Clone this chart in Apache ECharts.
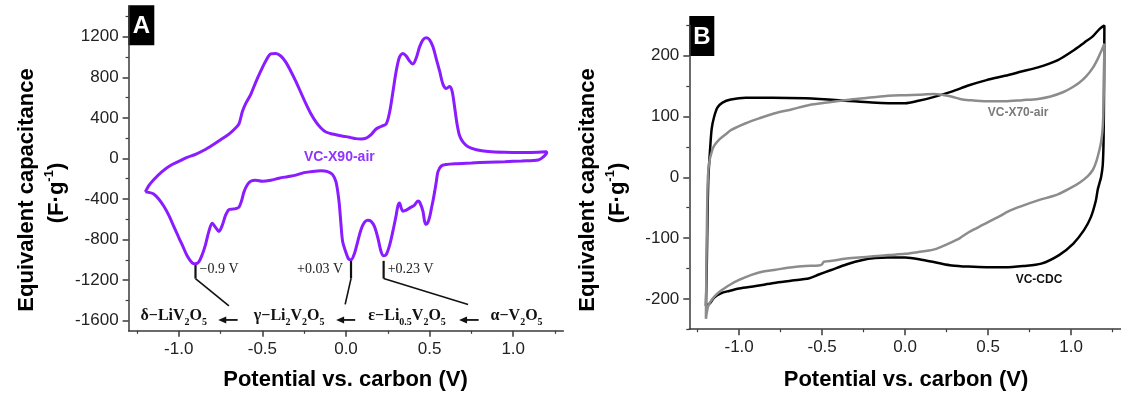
<!DOCTYPE html>
<html>
<head>
<meta charset="utf-8">
<script src="https://cdn.jsdelivr.net/npm/echarts@6/dist/echarts.min.js"></script>
<style>
  html, body { margin: 0; padding: 0; background: #fff; }
  #chart { width: 1121px; height: 399px; }
</style>
</head>
<body>
<div id="chart"></div>
<script>
  // panel A : VC-X90-air loop (upper branch left->right, then lower branch right->left)
  const x90Potential = [
    -1.2, -1.18, -1.15, -1.1, -1.05, -1.0, -0.95, -0.9, -0.85, -0.8, -0.75, -0.7, -0.66, -0.64, -0.62, -0.6, -0.57, -0.54, -0.51, -0.48,
    -0.45, -0.42, -0.39, -0.36, -0.33, -0.3, -0.27, -0.24, -0.21, -0.18, -0.15, -0.12, -0.08, -0.04, 0.0, 0.03, 0.06, 0.09, 0.12, 0.15,
    0.18, 0.21, 0.24, 0.26, 0.28, 0.3, 0.32, 0.34, 0.36, 0.38, 0.4, 0.42, 0.44, 0.46, 0.48, 0.5, 0.52, 0.54, 0.56, 0.58,
    0.6, 0.62, 0.635, 0.65, 0.665, 0.68, 0.7, 0.73, 0.78, 0.85, 0.95, 1.05, 1.15, 1.2,
    1.2, 1.18, 1.15, 1.05, 0.95, 0.85, 0.75, 0.65, 0.6, 0.57, 0.55, 0.54, 0.53, 0.52, 0.51, 0.5, 0.49, 0.48, 0.47, 0.46,
    0.44, 0.43, 0.41, 0.38, 0.36, 0.34, 0.33, 0.32, 0.31, 0.3, 0.28, 0.26, 0.24, 0.225, 0.21, 0.19, 0.17, 0.15, 0.13, 0.11,
    0.09, 0.07, 0.05, 0.03, 0.015, 0.0, -0.02, -0.03, -0.04, -0.05, -0.06, -0.08, -0.11, -0.15, -0.2, -0.25, -0.3, -0.35, -0.4, -0.45,
    -0.5, -0.54, -0.57, -0.59, -0.61, -0.625, -0.64, -0.66, -0.68, -0.7, -0.72, -0.74, -0.76, -0.78, -0.8, -0.82, -0.84, -0.86, -0.88, -0.9,
    -0.92, -0.95, -0.98, -1.0, -1.03, -1.06, -1.09, -1.12, -1.15, -1.18, -1.2
  ]
  const x90Capacitance = [
    -330, -270, -210, -130, -70, -30, 10, 40, 80, 130, 185, 240, 300, 340, 460, 540, 630, 750, 860, 960,
    1030, 1035, 1010, 950, 860, 760, 650, 540, 440, 360, 300, 260, 240, 225, 215, 205, 195, 192, 200, 235,
    290, 315, 340, 450, 650, 860, 1000, 1035, 1010, 960, 930, 990, 1100, 1170, 1190, 1170, 1100, 980, 860, 730,
    690, 710, 660, 500, 330, 220, 160, 115, 85, 68, 60, 58, 60, 65,
    55, 15, -15, -25, -32, -38, -45, -52, -60, -75, -130, -230, -330, -420, -500, -580, -630, -650, -620, -520,
    -430, -420, -460, -490, -510, -520, -490, -440, -470, -560, -720, -860, -950, -960, -920, -780, -670, -620, -610, -630,
    -700, -820, -940, -1000, -990, -930, -820, -650, -450, -320, -230, -160, -130, -122, -128, -140, -165, -180, -195, -215,
    -225, -215, -225, -260, -330, -420, -480, -495, -500, -505, -560, -660, -720, -680, -640, -720, -850, -950, -1020, -1040,
    -1030, -960, -850, -780, -670, -560, -470, -400, -350, -335, -330
  ]

  // panel B : VC-CDC loop
  const cdcPotential = [
    -1.2, -1.195, -1.19, -1.185, -1.175, -1.165, -1.15, -1.13, -1.1, -1.05, -0.96, -0.8, -0.6, -0.4, -0.2, -0.1, 0.0, 0.08, 0.17, 0.28,
    0.38, 0.49, 0.6, 0.7, 0.8, 0.92, 1.02, 1.08, 1.13, 1.17, 1.2,
    1.198, 1.195, 1.19, 1.18, 1.17, 1.16, 1.148, 1.118, 1.077, 1.013, 0.927, 0.82, 0.71, 0.6, 0.49, 0.38, 0.28, 0.2, 0.107,
    0.0, -0.107, -0.18, -0.256, -0.35, -0.45, -0.52, -0.577, -0.68, -0.79, -0.9, -1.0, -1.06, -1.11, -1.15, -1.175, -1.2
  ]
  const cdcCapacitance = [
    -212, -150, -60, 0, 45, 80, 100, 115, 123, 128, 131, 131, 130, 127, 123, 122, 122, 126, 132, 141,
    151, 160, 167, 174, 181, 193, 210, 222, 232, 244, 250,
    150, 60, 20, 0, -10, -20, -39, -66, -87, -109, -128, -142, -146, -148, -148, -147, -145, -141, -136,
    -132, -132, -133, -136, -143, -153, -160, -166, -170, -174, -179, -183, -187, -191, -198, -207, -212
  ]

  // panel B : VC-X70-air loop
  const x70Potential = [
    -1.2, -1.197, -1.193, -1.188, -1.18, -1.165, -1.15, -1.12, -1.08, -1.047, -0.96, -0.88, -0.79, -0.68, -0.577, -0.47, -0.363, -0.25, -0.15, -0.02,
    0.08, 0.17, 0.22, 0.278, 0.33, 0.385, 0.49, 0.6, 0.705, 0.8, 0.876, 0.95, 1.0, 1.05, 1.09, 1.13, 1.16, 1.18, 1.2,
    1.197, 1.193, 1.188, 1.18, 1.17, 1.15, 1.13, 1.1, 1.05, 1.0, 0.92, 0.8, 0.705, 0.63, 0.556, 0.47, 0.385, 0.33, 0.278, 0.22,
    0.17, 0.08, 0.0, -0.1, -0.19, -0.28, -0.363, -0.43, -0.49, -0.5, -0.52, -0.6, -0.68, -0.78, -0.855, -0.93, -1.0, -1.05, -1.09, -1.13,
    -1.16, -1.186, -1.2
  ]
  const x70Capacitance = [
    -233, -150, -60, 0, 25, 42, 52, 62, 71, 78, 89, 97, 105, 112, 119, 123, 127, 130, 133, 135,
    136, 137, 136, 133, 129, 127, 125, 125, 127, 129, 133, 140, 147, 156, 166, 180, 195, 207, 220,
    150, 100, 75, 58, 45, 25, 12, 2, -9, -17, -28, -38, -47, -55, -66, -78, -90, -100, -107, -114,
    -119, -123, -126, -128, -130, -132, -134, -137, -139, -143, -145, -146, -148, -152, -155, -161, -169, -176, -183, -191,
    -200, -212, -233
  ]

  // ticks and labels
  const potentialLabels = [-1, -0.5, 0, 0.5, 1]
  const potentialMinor = [-1.25, -0.75, -0.25, 0.25, 0.75, 1.25]
  const capALabels = [-1600, -1200, -800, -400, 0, 400, 800, 1200]
  const capAMinor = [-1400, -1000, -600, -200, 200, 600, 1000, 1400]
  const capBLabels = [-200, -100, 0, 100, 200]
  const capBMinor = [-250, -150, -50, 50, 150, 250]

  // peak annotations of panel A
  const peakMarks = [
    { v: -0.9, top: -1045, text: '\u22120.9 V', side: 'right', to: [-0.70, -1455] },
    { v: 0.03, top: -1005, text: '+0.03 V', side: 'left', to: [-0.005, -1440] },
    { v: 0.225, top: -1010, text: '+0.23 V', side: 'right', to: [0.73, -1440] }
  ]
  const phaseNames = [
    { x: -1.03, parts: [['m', '\u03b4\u2212LiV'], ['s', '2'], ['m', 'O'], ['s', '5']] },
    { x: -0.34, parts: [['m', '\u03b3\u2212Li'], ['s', '2'], ['m', 'V'], ['s', '2'], ['m', 'O'], ['s', '5']] },
    { x: 0.365, parts: [['m', '\u03b5\u2212Li'], ['s', '0.5'], ['m', 'V'], ['s', '2'], ['m', 'O'], ['s', '5']] },
    { x: 1.02, parts: [['m', '\u03b1\u2212V'], ['s', '2'], ['m', 'O'], ['s', '5']] }
  ]
  const phaseArrows = [[-0.648, -0.764], [0.055, -0.059], [0.793, 0.676]]
  const phaseY = -1553

  const purple = '#8a1cff'
  const gray = '#8c8c8c'
  const axisColor = '#3a3a3a'
  const textColor = '#222'

  const zip = (xs, ys) => xs.map((x, i) => [x, ys[i]])

  const chart = echarts.init(document.getElementById('chart'))

  function majorX(grid) {
    return {
      type: 'value', gridIndex: grid, position: 'bottom', min: -1.3, max: 1.3,
      axisLine: { show: true, onZero: false, lineStyle: { color: axisColor, width: 1.5 } },
      axisTick: { show: true, inside: false, length: 6, customValues: potentialLabels, lineStyle: { color: axisColor, width: 1.5 } },
      axisLabel: {
        customValues: potentialLabels, margin: 10, color: textColor, fontSize: 17, fontFamily: 'Liberation Sans',
        formatter: (v) => v.toFixed(1)
      },
      splitLine: { show: false }
    }
  }
  function minorX(grid) {
    return {
      type: 'value', gridIndex: grid, position: 'bottom', min: -1.3, max: 1.3,
      axisLine: { show: false, onZero: false },
      axisTick: { show: true, inside: false, length: 3, customValues: potentialMinor, lineStyle: { color: axisColor, width: 1.2 } },
      axisLabel: { show: false },
      splitLine: { show: false }
    }
  }
  function majorY(grid, min, max, labels) {
    return {
      type: 'value', gridIndex: grid, position: 'left', min: min, max: max,
      axisLine: { show: true, onZero: false, lineStyle: { color: axisColor, width: 1.5 } },
      axisTick: { show: true, inside: false, length: 6, customValues: labels, lineStyle: { color: axisColor, width: 1.5 } },
      axisLabel: {
        customValues: labels, margin: 10, color: textColor, fontSize: 17, fontFamily: 'Liberation Sans',
        formatter: (v) => String(v)
      },
      splitLine: { show: false }
    }
  }
  function minorY(grid, min, max, ticks) {
    return {
      type: 'value', gridIndex: grid, position: 'left', min: min, max: max,
      axisLine: { show: false, onZero: false },
      axisTick: { show: true, inside: false, length: 3, customValues: ticks, lineStyle: { color: axisColor, width: 1.2 } },
      axisLabel: { show: false },
      splitLine: { show: false }
    }
  }

  chart.setOption({
    animation: false,
    backgroundColor: '#fff',
    grid: [
      { left: 128.6, top: 6.3, width: 434.8, height: 324.5 },
      { left: 689.3, top: 25.4, width: 434, height: 303.8 }
    ],
    xAxis: [majorX(0), minorX(0), majorX(1), minorX(1)],
    yAxis: [
      majorY(0, -1700, 1500, capALabels), minorY(0, -1700, 1500, capAMinor),
      majorY(1, -250, 250, capBLabels), minorY(1, -250, 250, capBMinor)
    ],
    series: [
      {
        name: 'VC-X90-air', type: 'line', xAxisIndex: 0, yAxisIndex: 0,
        data: zip(x90Potential, x90Capacitance), showSymbol: false, smooth: 0.3,
        lineStyle: { color: purple, width: 3 }
      },
      {
        name: 'VC-CDC', type: 'line', xAxisIndex: 2, yAxisIndex: 2,
        data: zip(cdcPotential, cdcCapacitance), showSymbol: false, smooth: 0.3,
        lineStyle: { color: '#000', width: 2.5 }
      },
      {
        name: 'VC-X70-air', type: 'line', xAxisIndex: 2, yAxisIndex: 2,
        data: zip(x70Potential, x70Capacitance), showSymbol: false, smooth: 0.3,
        lineStyle: { color: gray, width: 2.5 }
      }
    ]
  })

  // annotations placed through the axes
  const pA = (x, y) => chart.convertToPixel({ seriesIndex: 0 }, [x, y])
  const pB = (x, y) => chart.convertToPixel({ seriesIndex: 1 }, [x, y])
  const serif = 'Liberation Serif'
  const sans = 'Liberation Sans'
  const g = []

  function yTitle(cx) {
    g.push({
      type: 'text', x: cx, y: 190, rotation: Math.PI / 2,
      style: { text: 'Equivalent capacitance', font: 'bold 22px "Liberation Sans"', fill: '#000', align: 'center', verticalAlign: 'middle' }
    })
    g.push({
      type: 'text', x: cx + 30, y: 193, rotation: Math.PI / 2,
      style: {
        text: '{m|(F\u00b7g}{s|-1}{m|)}', align: 'center', verticalAlign: 'middle',
        rich: {
          m: { fontFamily: sans, fontWeight: 'bold', fontSize: 22, fill: '#000', lineHeight: 28 },
          s: { fontFamily: sans, fontWeight: 'bold', fontSize: 13, fill: '#000', verticalAlign: 'top', lineHeight: 28 }
        }
      }
    })
  }
  function xTitle(cx) {
    g.push({
      type: 'text', x: cx, y: 380,
      style: { text: 'Potential vs. carbon (V)', font: 'bold 22px "Liberation Sans"', fill: '#000', align: 'center', verticalAlign: 'middle' }
    })
  }
  function panelTag(x, y, w, h, letter) {
    g.push({ type: 'rect', shape: { x: x, y: y, width: w, height: h }, style: { fill: '#000' } })
    g.push({
      type: 'text', x: x + w / 2, y: y + h / 2 + 1,
      style: { text: letter, font: 'bold 24px "Liberation Sans"', fill: '#fff', align: 'center', verticalAlign: 'middle' }
    })
  }

  yTitle(27)
  yTitle(588)
  xTitle(345.5)
  xTitle(906)
  panelTag(128.3, 5.3, 26, 40, 'A')
  panelTag(689.3, 16, 25, 40, 'B')

  // series names
  let p = pA(-0.04, 15)
  g.push({ type: 'text', x: p[0], y: p[1], style: { text: 'VC-X90-air', font: 'bold 14px "Liberation Sans"', fill: '#9233ff', align: 'center', verticalAlign: 'middle' } })
  p = pB(0.68, 106)
  g.push({ type: 'text', x: p[0], y: p[1], style: { text: 'VC-X70-air', font: 'bold 12px "Liberation Sans"', fill: '#7a7a7a', align: 'center', verticalAlign: 'middle' } })
  p = pB(0.806, -169)
  g.push({ type: 'text', x: p[0], y: p[1], style: { text: 'VC-CDC', font: 'bold 12px "Liberation Sans"', fill: '#111', align: 'center', verticalAlign: 'middle' } })

  // peak leaders and potentials
  peakMarks.forEach((m) => {
    const a = pA(m.v, m.top)
    const b = pA(m.v, -1185)
    const c = pA(m.to[0], m.to[1])
    g.push({ type: 'line', shape: { x1: a[0], y1: a[1], x2: b[0], y2: b[1] }, style: { stroke: '#111', lineWidth: 2.2 } })
    g.push({ type: 'line', shape: { x1: b[0], y1: b[1], x2: c[0], y2: c[1] }, style: { stroke: '#111', lineWidth: 1.6 } })
    const t = pA(m.v, -1090)
    g.push({
      type: 'text', x: m.side === 'right' ? t[0] + 4 : t[0] - 8, y: t[1],
      style: { text: m.text, font: '14px "Liberation Serif"', fill: textColor, align: m.side === 'right' ? 'left' : 'right', verticalAlign: 'middle' }
    })
  })

  // phase sequence
  const rich = {
    m: { fontFamily: serif, fontWeight: 'bold', fontSize: 16, fill: '#111', lineHeight: 24 },
    s: { fontFamily: serif, fontWeight: 'bold', fontSize: 10, fill: '#111', verticalAlign: 'bottom', lineHeight: 24 }
  }
  phaseNames.forEach((n) => {
    const q = pA(n.x, phaseY)
    g.push({
      type: 'text', x: q[0], y: q[1],
      style: { text: n.parts.map((pt) => '{' + pt[0] + '|' + pt[1] + '}').join(''), align: 'center', verticalAlign: 'middle', rich: rich }
    })
  })
  phaseArrows.forEach((ar) => {
    const s = pA(ar[0], phaseY - 40)
    const e = pA(ar[1], phaseY - 40)
    g.push({ type: 'line', shape: { x1: s[0], y1: s[1], x2: e[0] + 6, y2: e[1] }, style: { stroke: '#111', lineWidth: 1.8 } })
    g.push({ type: 'polygon', shape: { points: [[e[0], e[1]], [e[0] + 8, e[1] - 3.5], [e[0] + 8, e[1] + 3.5]] }, style: { fill: '#111' } })
  })

  chart.setOption({ graphic: g })
</script>
</body>
</html>
